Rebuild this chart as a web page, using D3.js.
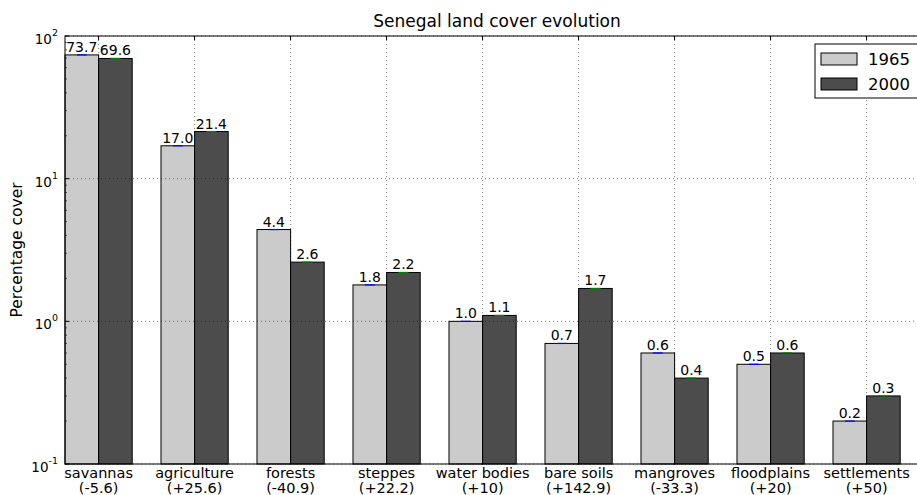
<!DOCTYPE html>
<html><head><meta charset="utf-8">
<script src="https://cdn.jsdelivr.net/npm/d3@7"></script>
<style>
body{margin:0;background:#fff;}
svg{display:block;font-family:"DejaVu Sans",sans-serif;}
</style></head>
<body>
<svg id="c" width="917" height="495"></svg>
<script>
const categories = ["savannas","agriculture","forests","steppes","water bodies","bare soils","mangroves","floodplains","settlements"];
const changes = ["(-5.6)","(+25.6)","(-40.9)","(+22.2)","(+10)","(+142.9)","(-33.3)","(+20)","(+50)"];
const series1965 = [73.7,17.0,4.4,1.8,1.0,0.7,0.6,0.5,0.2];
const series2000 = [69.6,21.4,2.6,2.2,1.1,1.7,0.4,0.6,0.3];
const seriesNames = ["1965","2000"];
const yTickExponents = [-1,0,1,2];

const svg = d3.select("#c");
const L=65, R=929, T=36, B=464;
const x = d3.scaleLinear().domain([0,9]).range([L,R]);
const y = d3.scaleLog().domain([0.1,100]).range([B,T]);
const bw = 0.35;
const colors = ["#cbcbcb","#4c4c4c"];
const capColors = ["#0000ff","#008000"];
const allSeries = [series1965, series2000];

// bars
allSeries.forEach((s,k)=>{
  svg.append("g").selectAll("rect").data(s).join("rect")
    .attr("x",(d,i)=>x(i+k*bw))
    .attr("width",x(bw)-x(0))
    .attr("y",d=>y(d))
    .attr("height",d=>B-y(d))
    .attr("fill",colors[k]).attr("stroke","#000").attr("stroke-width",1);
});

// grid
const g = svg.append("g");
yTickExponents.forEach(e=>{
  g.append("line").attr("x1",L).attr("x2",R).attr("y1",y(Math.pow(10,e))).attr("y2",y(Math.pow(10,e)))
   .attr("stroke","#000").attr("stroke-width",0.5).attr("stroke-dasharray","1,3");
});
categories.forEach((c,i)=>{
  g.append("line").attr("x1",x(i+bw)).attr("x2",x(i+bw)).attr("y1",T).attr("y2",B)
   .attr("stroke","#000").attr("stroke-width",0.5).attr("stroke-dasharray","1,3");
});

// caps and value labels
allSeries.forEach((s,k)=>{
  s.forEach((d,i)=>{
    const cx = x(i+k*bw+bw/2);
    svg.append("line").attr("x1",cx-5).attr("x2",cx+5).attr("y1",y(d)).attr("y2",y(d))
      .attr("stroke",capColors[k]).attr("stroke-width",1.2);
    svg.append("text").attr("x",cx).attr("y",y(d)-3).attr("text-anchor","middle")
      .attr("font-size",14).text(d.toFixed(1));
  });
});

// spines
svg.append("rect").attr("x",L).attr("y",T).attr("width",R-L).attr("height",B-T)
  .attr("fill","none").attr("stroke","#000").attr("stroke-width",1);

// y ticks
const minor=[];
for(let e=-1;e<2;e++) for(let m=2;m<10;m++) minor.push(m*Math.pow(10,e));
minor.forEach(v=>{
  svg.append("line").attr("x1",L).attr("x2",L+2).attr("y1",y(v)).attr("y2",y(v)).attr("stroke","#000").attr("stroke-width",0.6);
  svg.append("line").attr("x1",R).attr("x2",R-2).attr("y1",y(v)).attr("y2",y(v)).attr("stroke","#000").attr("stroke-width",0.6);
});
yTickExponents.forEach(e=>{
  const yy=y(Math.pow(10,e));
  svg.append("line").attr("x1",L).attr("x2",L+4).attr("y1",yy).attr("y2",yy).attr("stroke","#000");
  const t=svg.append("text").attr("x",58).attr("y",yy+8).attr("text-anchor","end").attr("font-size",13.5);
  t.append("tspan").text("10");
  t.append("tspan").attr("dy",-8).attr("font-size",9.5).text(String(e));
});

// x ticks and labels
categories.forEach((c,i)=>{
  const xx=x(i+bw);
  svg.append("line").attr("x1",xx).attr("x2",xx).attr("y1",B).attr("y2",B-4).attr("stroke","#000");
  svg.append("line").attr("x1",xx).attr("x2",xx).attr("y1",T).attr("y2",T+4).attr("stroke","#000");
  svg.append("text").attr("x",xx).attr("y",478).attr("text-anchor","middle").attr("font-size",14.5).text(c);
  svg.append("text").attr("x",xx).attr("y",493).attr("text-anchor","middle").attr("font-size",14.5).text(changes[i]);
});

// title & y label
svg.append("text").attr("x",(L+R)/2).attr("y",27).attr("text-anchor","middle").attr("font-size",17).text("Senegal land cover evolution");
svg.append("text").attr("transform",`translate(22,${(T+B)/2}) rotate(-90)`).attr("text-anchor","middle").attr("font-size",15.5).text("Percentage cover");

// legend
const lg=svg.append("g");
lg.append("rect").attr("x",815).attr("y",44).attr("width",105).attr("height",54).attr("fill","#fff").attr("stroke","#000").attr("stroke-width",1);
seriesNames.forEach((n,k)=>{
  lg.append("rect").attr("x",821).attr("y",53+k*25).attr("width",36).attr("height",12).attr("fill",colors[k]).attr("stroke","#000");
  lg.append("text").attr("x",868).attr("y",65+k*25).attr("font-size",16.5).text(n);
});
</script>
</body></html>
